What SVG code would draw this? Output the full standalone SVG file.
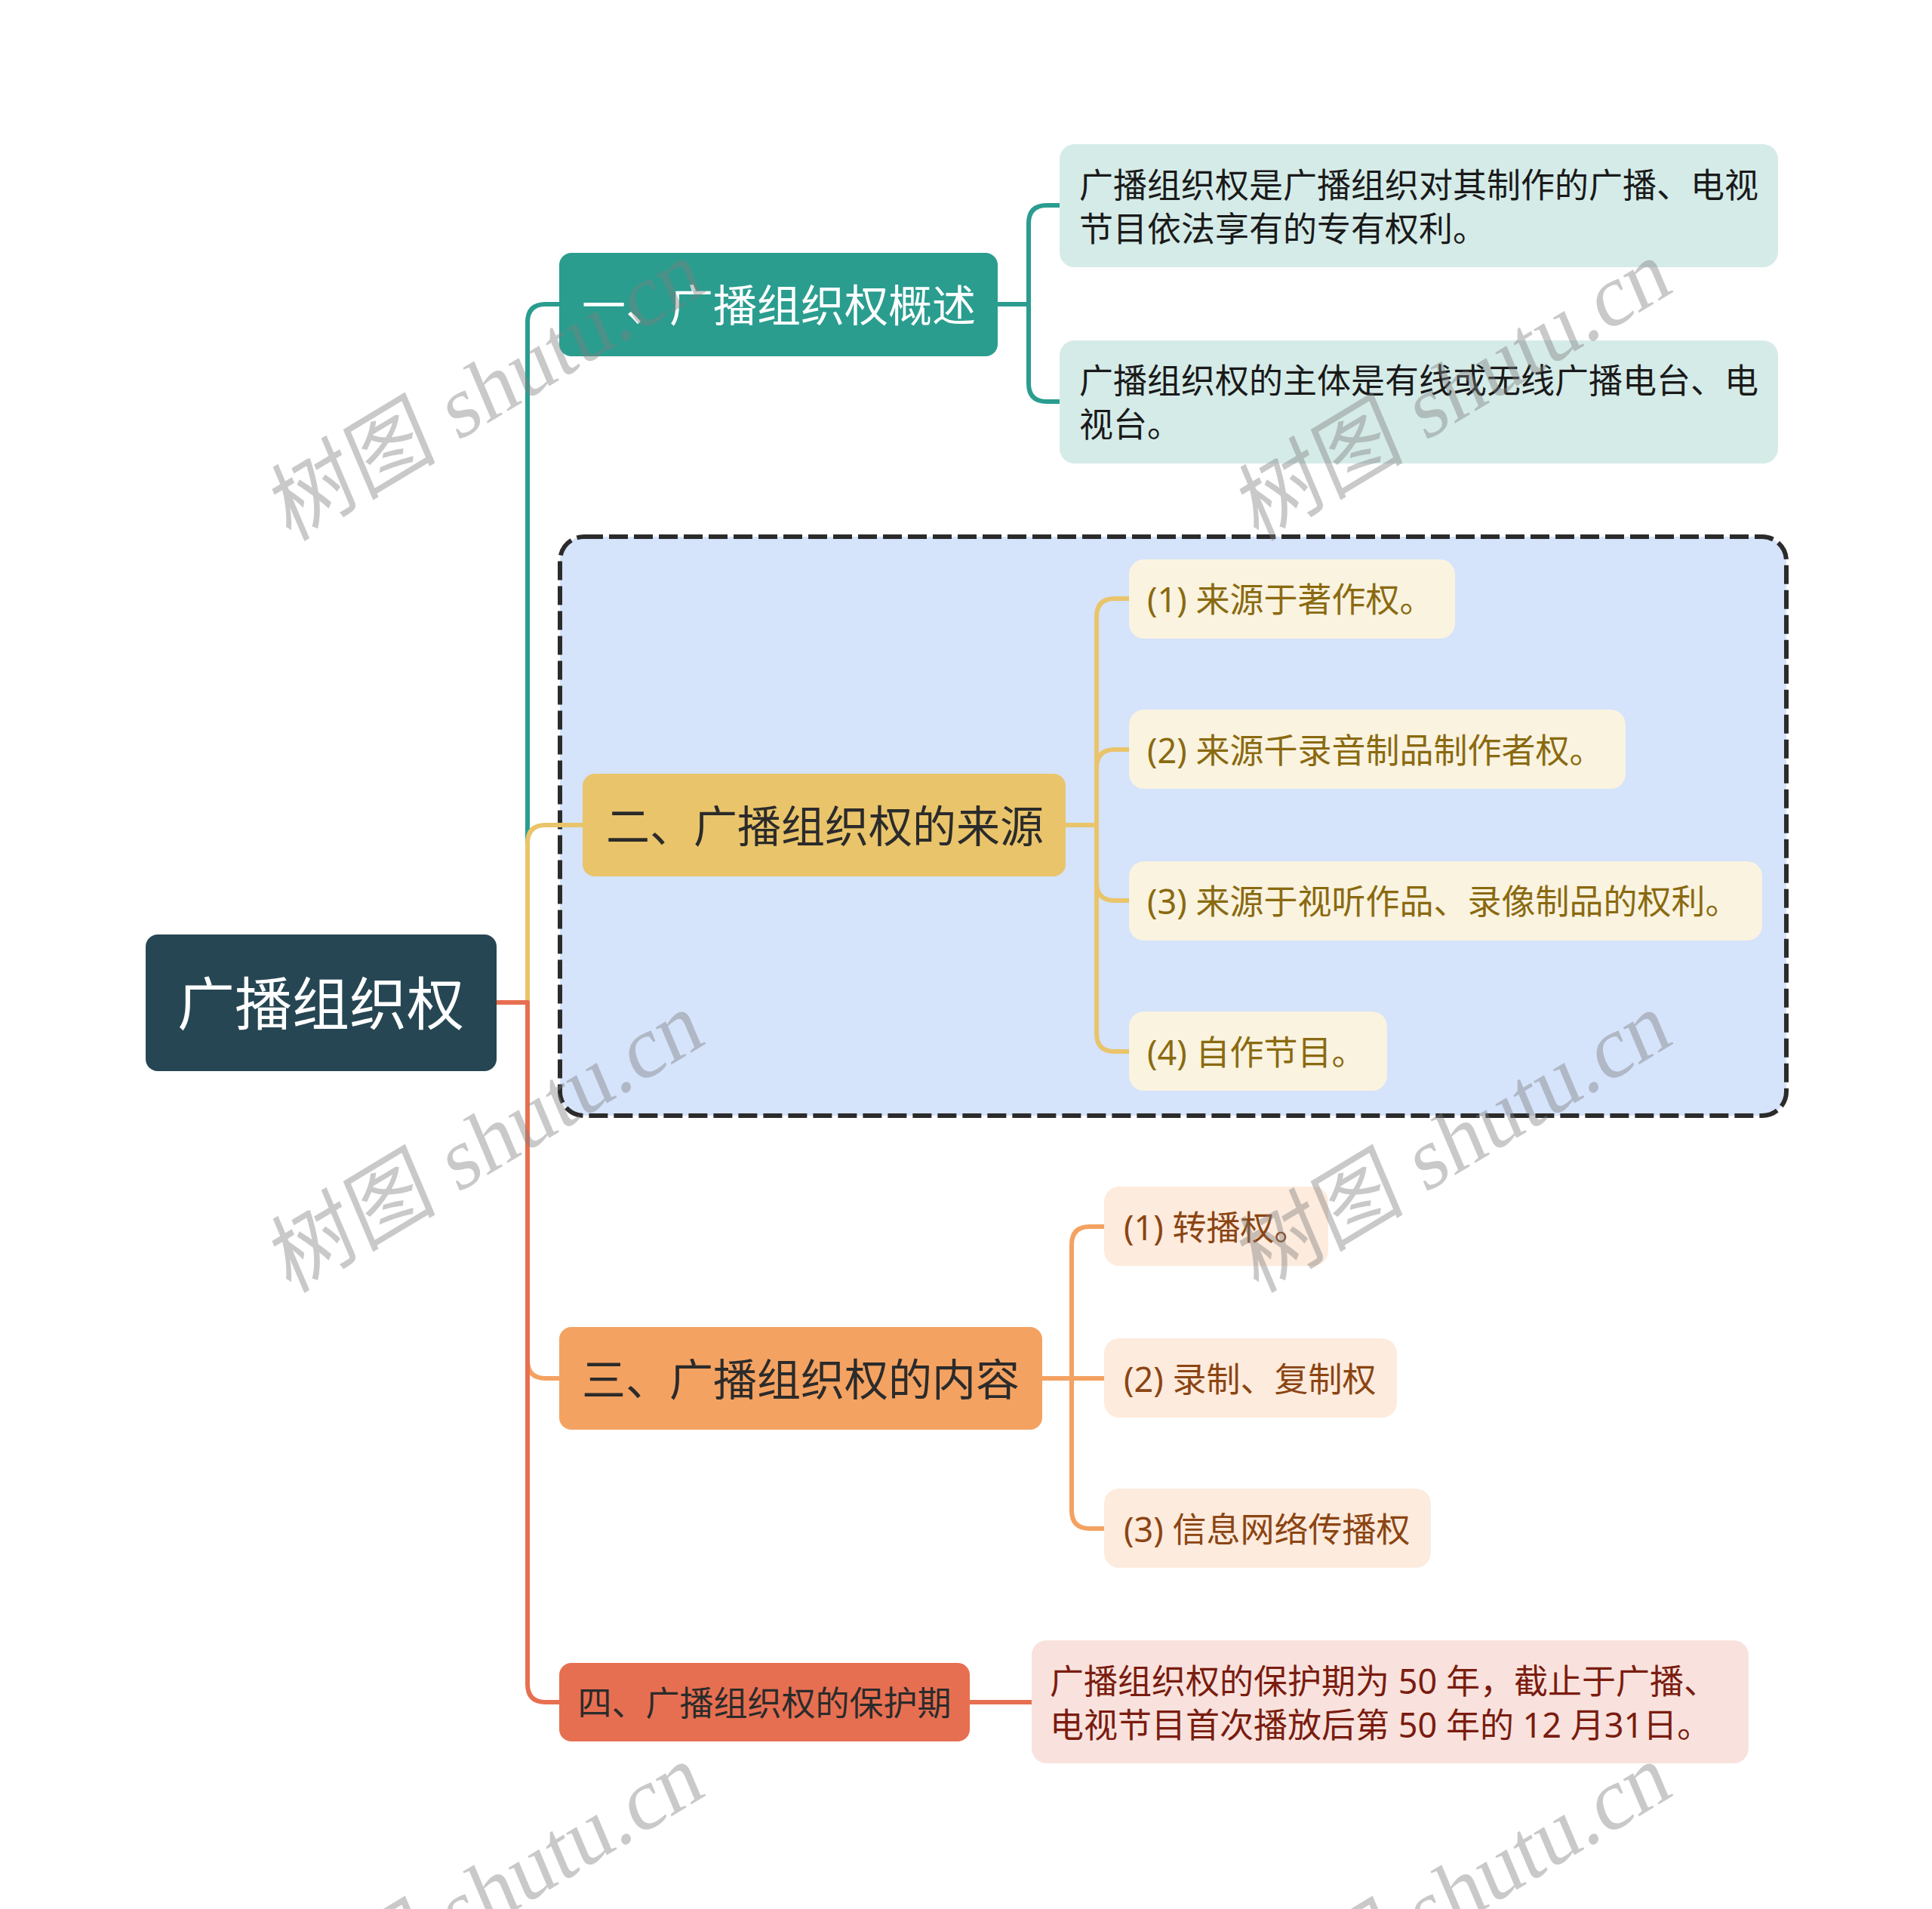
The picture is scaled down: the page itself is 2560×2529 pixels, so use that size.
<svg xmlns="http://www.w3.org/2000/svg" width="2560" height="2529" viewBox="0 0 2560 2529">
<style>
text{font-family:"Noto Sans","Noto Sans CJK SC",sans-serif;dominant-baseline:central}
.c{fill:none;stroke-width:6;stroke-linecap:round;stroke-linejoin:round}
.mid{text-anchor:middle}
.wm{font-family:"Liberation Serif","Noto Sans CJK SC",serif;font-size:115px;fill:#7f7f7f;opacity:0.42;text-anchor:middle}
</style>
<rect width="2560" height="2529" fill="#ffffff"/>
<g id="boundary">
<rect x="742" y="711" width="1625" height="767" rx="32" fill="#D5E3FB" stroke="#2b2b2b" stroke-width="6" stroke-dasharray="25 8"/>
</g>
<g id="connectors">
<path class="c" stroke="#2A9D8F" d="M658,1328 H699 V427 Q699,403 723,403 H741"/>
<path class="c" stroke="#E9C46A" d="M658,1328 H699 V1117 Q699,1093 723,1093 H772"/>
<path class="c" stroke="#F4A261" d="M658,1328 H699 V1802 Q699,1826 723,1826 H741"/>
<path class="c" stroke="#E76F51" d="M658,1328 H699 V2231 Q699,2255 723,2255 H741"/>
<path class="c" stroke="#2A9D8F" d="M1322,403 H1363 V296 Q1363,272 1387,272 H1404"/>
<path class="c" stroke="#2A9D8F" d="M1322,403 H1363 V508 Q1363,532 1387,532 H1404"/>
<path class="c" stroke="#E9C46A" d="M1412,1093 H1453 V817 Q1453,793 1477,793 H1496"/>
<path class="c" stroke="#E9C46A" d="M1412,1093 H1453 V1017 Q1453,993 1477,993 H1496"/>
<path class="c" stroke="#E9C46A" d="M1412,1093 H1453 V1169 Q1453,1193 1477,1193 H1496"/>
<path class="c" stroke="#E9C46A" d="M1412,1093 H1453 V1369 Q1453,1393 1477,1393 H1496"/>
<path class="c" stroke="#F4A261" d="M1381,1826 H1420 V1649 Q1420,1625 1444,1625 H1463"/>
<path class="c" stroke="#F4A261" d="M1381,1826 H1463"/>
<path class="c" stroke="#F4A261" d="M1381,1826 H1420 V2001 Q1420,2025 1444,2025 H1463"/>
<path class="c" stroke="#E76F51" d="M1285,2255 H1367"/>
</g>
<g id="root">
<rect x="193" y="1238" width="465" height="181" rx="16" fill="#264653"/>
<text class="mid" x="425" y="1328" font-size="76" fill="#ffffff">广播组织权</text>
</g>
<g id="n1">
<rect x="741" y="335" width="581" height="137" rx="16" fill="#2A9D8F"/>
<text class="mid" x="1032" y="403" font-size="58" fill="#ffffff">一、广播组织权概述</text>
</g>
<g id="n1c1">
<rect x="1404" y="191" width="952" height="163" rx="20" fill="#D5EBE8"/>
<text x="1430" y="244" font-size="45" fill="#1a1a1a">广播组织权是广播组织对其制作的广播、电视</text>
<text x="1430" y="302" font-size="45" fill="#1a1a1a">节目依法享有的专有权利。</text>
</g>
<g id="n1c2">
<rect x="1404" y="451" width="952" height="163" rx="20" fill="#D5EBE8"/>
<text x="1430" y="503" font-size="45" fill="#1a1a1a">广播组织权的主体是有线或无线广播电台、电</text>
<text x="1430" y="561" font-size="45" fill="#1a1a1a">视台。</text>
</g>
<g id="n2">
<rect x="772" y="1025" width="640" height="136" rx="16" fill="#E9C46A"/>
<text class="mid" x="1093" y="1093" font-size="58" fill="#2b2b2b">二、广播组织权的来源</text>
</g>
<g id="n2c1">
<rect x="1496" y="741" width="432" height="105" rx="20" fill="#FAF3E0"/>
<text x="1520" y="793" font-size="45" fill="#8A6A10">(1) 来源于著作权。</text>
</g>
<g id="n2c2">
<rect x="1496" y="940" width="658" height="105" rx="20" fill="#FAF3E0"/>
<text x="1520" y="993" font-size="45" fill="#8A6A10">(2) 来源千录音制品制作者权。</text>
</g>
<g id="n2c3">
<rect x="1496" y="1141" width="839" height="105" rx="20" fill="#FAF3E0"/>
<text x="1520" y="1193" font-size="45" fill="#8A6A10">(3) 来源于视听作品、录像制品的权利。</text>
</g>
<g id="n2c4">
<rect x="1496" y="1340" width="342" height="105" rx="20" fill="#FAF3E0"/>
<text x="1520" y="1393" font-size="45" fill="#8A6A10">(4) 自作节目。</text>
</g>
<g id="n3">
<rect x="741" y="1758" width="640" height="136" rx="16" fill="#F4A261"/>
<text class="mid" x="1061" y="1826" font-size="58" fill="#2b2b2b">三、广播组织权的内容</text>
</g>
<g id="n3c1">
<rect x="1463" y="1572" width="297" height="105" rx="20" fill="#FDEBDD"/>
<text x="1489" y="1625" font-size="45" fill="#8B4513">(1) 转播权。</text>
</g>
<g id="n3c2">
<rect x="1463" y="1773" width="388" height="105" rx="20" fill="#FDEBDD"/>
<text x="1489" y="1826" font-size="45" fill="#8B4513">(2) 录制、复制权</text>
</g>
<g id="n3c3">
<rect x="1463" y="1972" width="433" height="105" rx="20" fill="#FDEBDD"/>
<text x="1489" y="2025" font-size="45" fill="#8B4513">(3) 信息网络传播权</text>
</g>
<g id="n4">
<rect x="741" y="2203" width="544" height="104" rx="16" fill="#E76F51"/>
<text class="mid" x="1013" y="2255" font-size="45" fill="#2b2b2b">四、广播组织权的保护期</text>
</g>
<g id="n4c1">
<rect x="1367" y="2173" width="950" height="163" rx="20" fill="#F9E2DD"/>
<text x="1391" y="2226" font-size="45" fill="#7A1C10">广播组织权的保护期为 50 年，截止于广播、</text>
<text x="1391" y="2284" font-size="45" fill="#7A1C10">电视节目首次播放后第 50 年的 12 月31日。</text>
</g>
<g id="watermarks">
<text class="wm" transform="translate(645,516) rotate(-31) skewX(-8)">树图 shutu.cn</text>
<text class="wm" transform="translate(1927,516) rotate(-31) skewX(-8)">树图 shutu.cn</text>
<text class="wm" transform="translate(645,1512) rotate(-31) skewX(-8)">树图 shutu.cn</text>
<text class="wm" transform="translate(1927,1512) rotate(-31) skewX(-8)">树图 shutu.cn</text>
<text class="wm" transform="translate(645,2508) rotate(-31) skewX(-8)">树图 shutu.cn</text>
<text class="wm" transform="translate(1927,2508) rotate(-31) skewX(-8)">树图 shutu.cn</text>
</g>
</svg>
